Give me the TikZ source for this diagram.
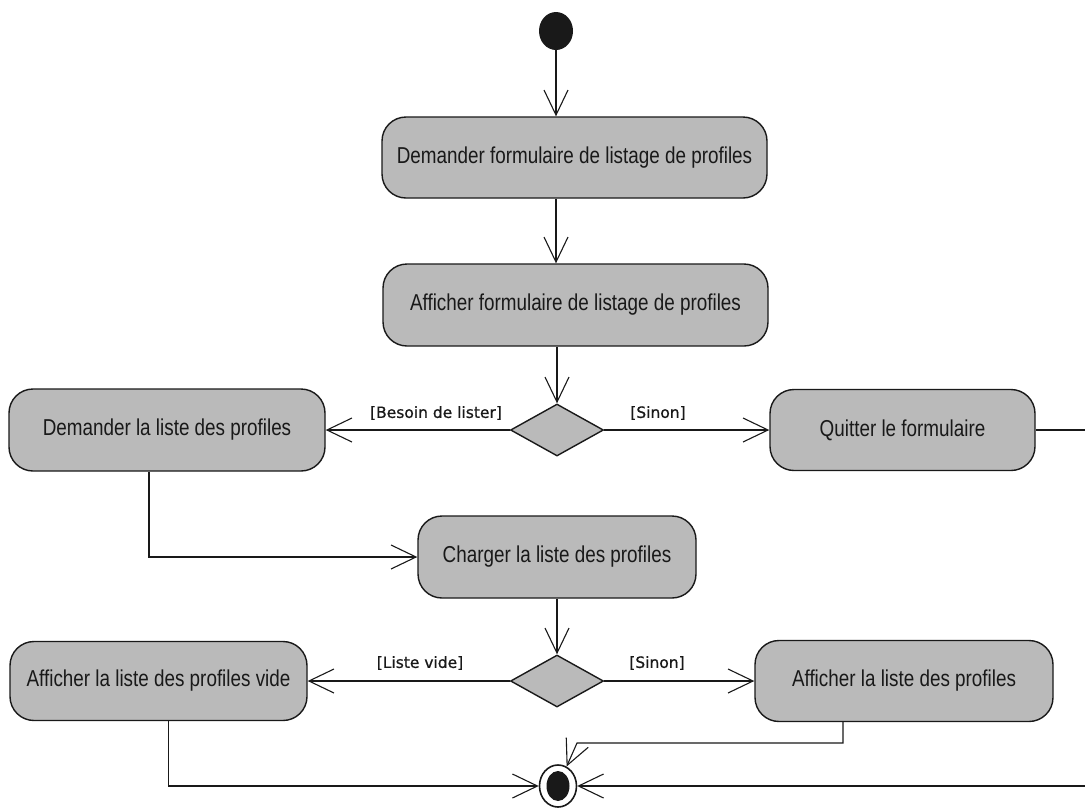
\documentclass[tikz,border=0pt]{standalone}
\usepackage{fontspec}
\setmainfont{Liberation Sans}
\newfontfamily\actfont[FakeStretch=0.82]{Liberation Sans}
\newfontfamily\guardfont[FakeBold=0.8]{DejaVu Sans}
\usetikzlibrary{arrows.meta,shapes.geometric}

\definecolor{actfill}{RGB}{186,186,186}
\definecolor{ink}{RGB}{25,25,25}

\tikzset{
  activity/.style={rectangle, draw=ink, line width=1.4pt, fill=actfill,
    rounded corners=24pt, inner sep=0pt, text=ink,
    font=\actfont\fontsize{23}{26}\selectfont},
  decision/.style={diamond, draw=ink, line width=1.4pt, fill=actfill,
    inner sep=0pt, minimum width=93pt, minimum height=52pt},
  flow/.style={draw=ink, line width=1.1pt,
    -{Straight Barb[length=25pt,width=24pt,line width=1.1pt]}},
  guard/.style={font=\guardfont\fontsize{15.5}{18}\selectfont, text=ink,
    inner sep=0pt},
}

\begin{document}
\begin{tikzpicture}[x=1pt,y=-1pt]
  \useasboundingbox (0,0) rectangle (1085,807);
  \clip (0,0) rectangle (1085,807);

  % initial state
  \node[ellipse, fill=ink, inner sep=0pt, minimum width=34pt,
        minimum height=38pt] (start) at (556,31) {};

  % activities
  \node[activity, minimum width=385pt, minimum height=81pt] (b1)
    at (574.5,157.5) {Demander formulaire de listage de profiles};
  \node[activity, minimum width=385pt, minimum height=82pt] (b2)
    at (575.5,305) {Afficher formulaire de listage de profiles};
  \node[decision] (d1) at (557,430) {};
  \node[activity, minimum width=316pt, minimum height=82pt] (bL1)
    at (167,430) {Demander la liste des profiles};
  \node[activity, minimum width=265pt, minimum height=81pt] (bR1)
    at (902.5,430) {Quitter le formulaire};
  \node[activity, minimum width=278pt, minimum height=82pt] (b3)
    at (557,557) {Charger la liste des profiles};
  \node[decision] (d2) at (557,681) {};
  \node[activity, minimum width=297pt, minimum height=79pt] (bL2)
    at (158.5,681) {Afficher la liste des profiles vide};
  \node[activity, minimum width=298pt, minimum height=81pt] (bR2)
    at (904,681) {Afficher la liste des profiles};

  % final state
  \node[ellipse, draw=ink, line width=1.6pt, fill=white, inner sep=0pt,
        minimum width=37pt, minimum height=42pt] (end) at (558,786) {};
  \node[ellipse, fill=ink, inner sep=0pt, minimum width=23pt,
        minimum height=30pt] (endcore) at (end) {};

  % guards
  \node[guard] (gBesoin) at (436,413) {[Besoin de lister]};
  \node[guard] (gSinon1) at (658,413) {[Sinon]};
  \node[guard] (gVide)   at (420,663) {[Liste vide]};
  \node[guard] (gSinon2) at (657,663) {[Sinon]};

  % routing points
  \coordinate (kink) at (577,743);
  \coordinate (loop) at (1110,430);

  % control flow
  \draw[flow] (start) -- (start |- b1.north);
  \draw[flow] (b1.south -| start) -- (b2.north -| start);
  \draw[flow] (b2.south -| d1) -- (d1.north);
  \draw[flow] (d1.west) -- (bL1.east);
  \draw[flow] (d1.east) -- (bR1.west);
  \draw[flow] ([xshift=-18pt]bL1.south) |- (b3.west);
  \draw[flow] (b3.south -| d2) -- (d2.north);
  \draw[flow] (d2.west) -- (bL2.east);
  \draw[flow] (d2.east) -- (bR2.west);
  \draw[flow] ([xshift=10pt]bL2.south) |- (end.west);
  \draw[flow] ([xshift=-61pt]bR2.south) |- (kink) -- (end);
  \draw[flow] (bR1.east) -- (bR1.east -| loop) |- (end.east);
\end{tikzpicture}
\end{document}
